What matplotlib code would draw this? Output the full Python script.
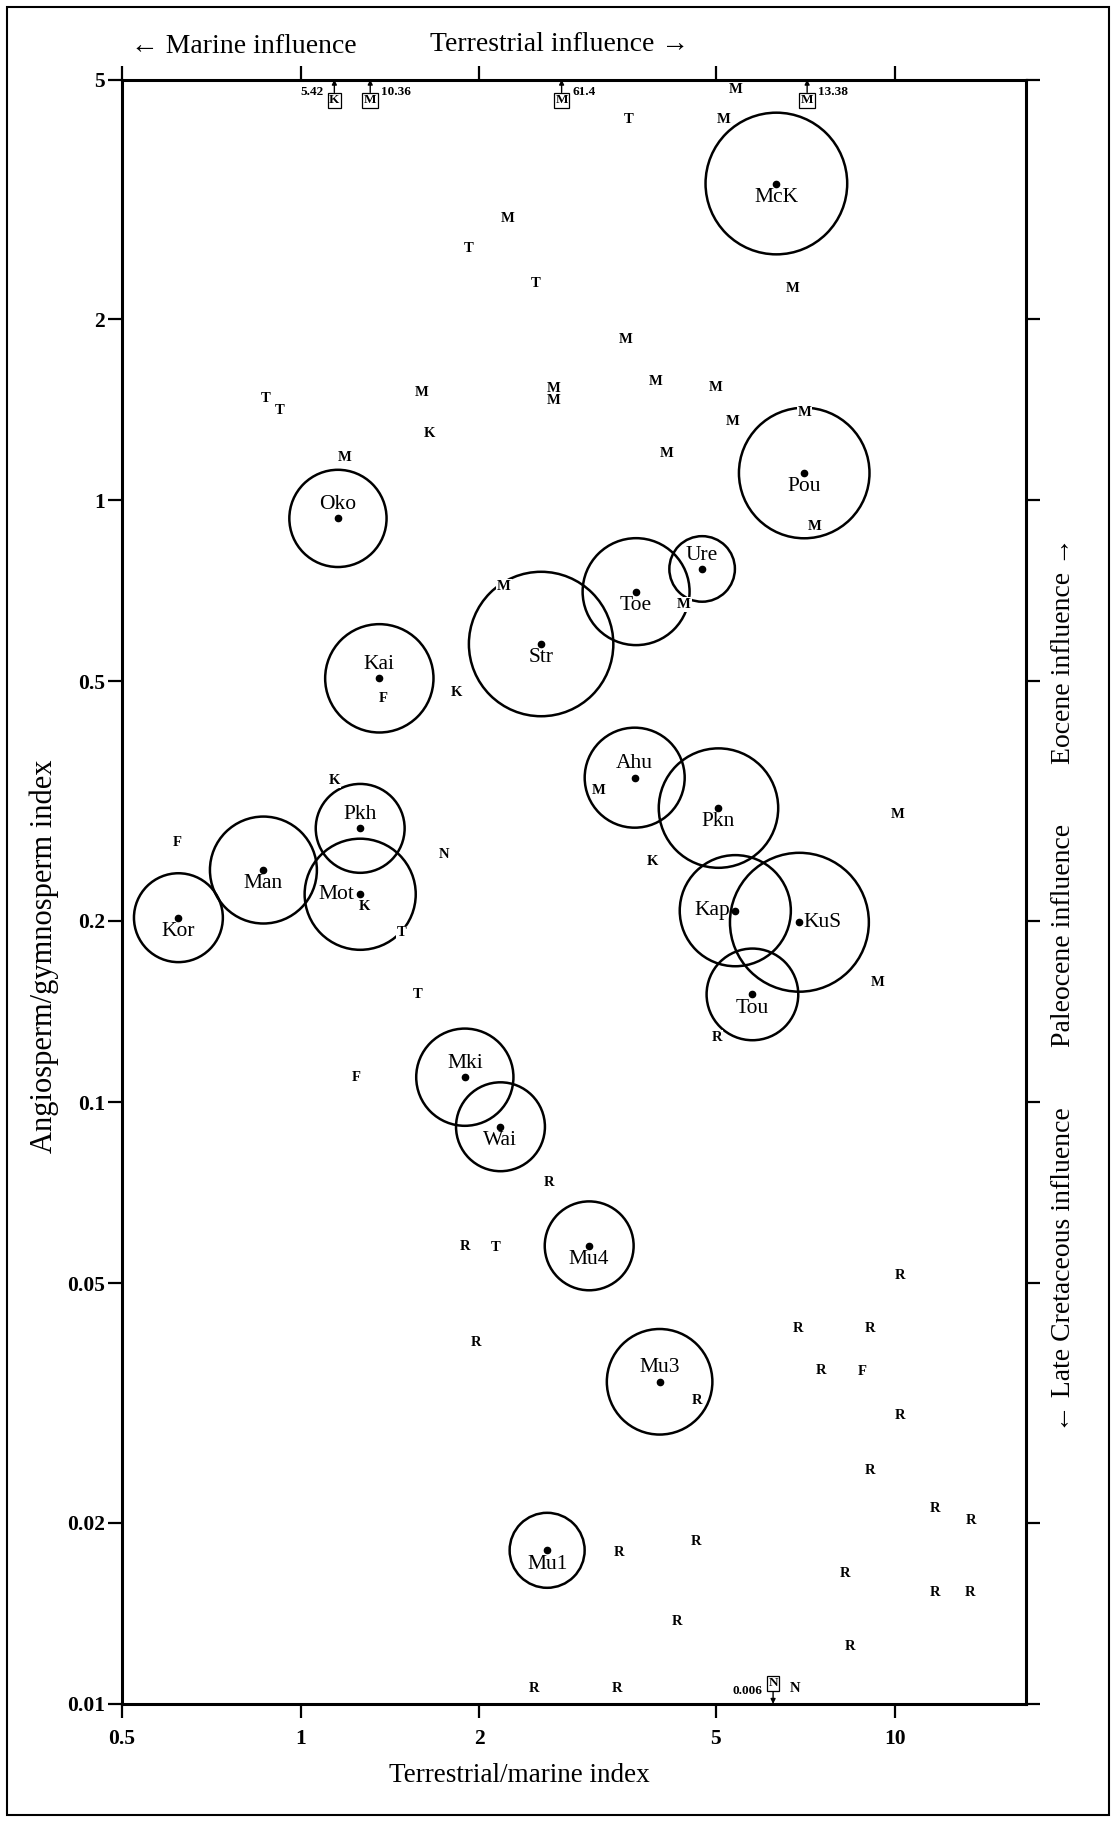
import matplotlib
matplotlib.use("Agg")
import matplotlib.pyplot as plt
from matplotlib.patches import Rectangle
from matplotlib.ticker import NullLocator

plt.rcParams['font.family'] = ['Liberation Serif', 'DejaVu Serif']

# localities (circled)
site_names = ['McK', 'Pou', 'Oko', 'Kai', 'Str', 'Pkh', 'Man', 'Mot', 'Kor', 'Toe', 'Ure',
              'Ahu', 'Pkn', 'Kap', 'KuS', 'Tou', 'Mki', 'Wai', 'Mu4', 'Mu3', 'Mu1']
site_tm = [6.32, 7.04, 1.156, 1.357, 2.54, 1.26, 0.866, 1.26, 0.623, 3.67, 4.74,
           3.65, 5.05, 5.39, 6.91, 5.76, 1.89, 2.17, 3.06, 4.02, 2.60]
site_ag = [3.36, 1.11, 0.933, 0.506, 0.577, 0.285, 0.243, 0.2215, 0.2025, 0.705, 0.769,
           0.346, 0.308, 0.208, 0.199, 0.151, 0.110, 0.091, 0.0577, 0.0343, 0.0180]
# circle radius in points
site_radius = [51, 47, 35, 39, 52, 32, 38.5, 40, 32, 38.5, 23.6,
               36, 43, 40, 50, 33, 35, 32, 32, 38, 27]

# single samples, letter = formation
mark_letters = ['M', 'T', 'T', 'T', 'T', 'M', 'K', 'M', 'M', 'M',
                'M', 'T', 'M', 'M', 'M', 'M', 'M', 'M', 'M', 'M',
                'M', 'M', 'M', 'K', 'M', 'M', 'F', 'K', 'K', 'F',
                'N', 'K', 'T', 'T', 'F', 'R', 'R', 'T', 'M', 'R',
                'R', 'R', 'R', 'R', 'R', 'R', 'R', 'R', 'F', 'R',
                'R', 'R', 'R', 'R', 'R', 'R', 'R', 'R', 'R', 'R', 'N']
mark_tm = [2.23, 1.92, 2.49, 0.872, 0.921, 1.60, 1.65, 2.67, 2.67, 1.185,
           5.39, 3.56, 5.15, 6.74, 3.53, 3.96, 4.99, 5.34, 4.13, 7.04,
           7.34, 4.42, 10.12, 3.91, 3.17, 2.20, 1.38, 1.83, 1.14, 0.619,
           1.74, 1.28, 1.48, 1.575, 1.24, 2.62, 1.89, 2.13, 9.37, 5.02,
           10.2, 1.97, 3.43, 2.47, 3.41, 6.87, 9.07, 7.51, 8.80, 4.65,
           10.2, 9.07, 11.67, 13.43, 4.63, 8.26, 11.67, 13.4, 4.30, 8.39, 6.80]
mark_ag = [2.94, 2.62, 2.29, 1.476, 1.41, 1.508, 1.29, 1.534, 1.467, 1.18,
           4.81, 4.30, 4.30, 2.25, 1.85, 1.573, 1.539, 1.35, 1.195, 1.40,
           0.905, 0.671, 0.301, 0.251, 0.329, 0.719, 0.469, 0.480, 0.342, 0.270,
           0.258, 0.211, 0.191, 0.151, 0.1097, 0.0736, 0.0576, 0.0574, 0.158, 0.128,
           0.0516, 0.0398, 0.01785, 0.0106, 0.0106, 0.0421, 0.0421, 0.0358, 0.0357, 0.0319,
           0.0302, 0.0244, 0.0211, 0.0202, 0.0186, 0.01646, 0.0153, 0.0153, 0.01372, 0.01248, 0.0106]

# samples beyond the axis range
off_letters = ['K', 'M', 'M', 'M', 'N']
off_tm = [1.14, 1.31, 2.75, 7.12, 6.24]
off_ag = [5.42, 10.36, 61.4, 13.38, 0.006]
off_text = ['5.42', '10.36', '61.4', '13.38', '0.006']
off_side = ['left', 'right', 'right', 'right', 'left']

x_ticks = [0.5, 1, 2, 5, 10]
y_ticks = [0.01, 0.02, 0.05, 0.1, 0.2, 0.5, 1, 2, 5]

label_place = {'Oko': 'above', 'Kai': 'above', 'Ure': 'above', 'Ahu': 'above',
               'Pkh': 'above', 'Mki': 'above', 'Mu3': 'above',
               'Kap': 'left', 'Mot': 'left', 'KuS': 'right'}

fig = plt.figure(figsize=(11.16, 18.22), dpi=100)
ax = fig.add_axes([0.109, 0.0648, 0.810, 0.8915])
ax.set_xscale('log')
ax.set_yscale('log')
ax.set_xlim(0.5, 16.6)
ax.set_ylim(0.01, 5)

sizes = [(2 * r) ** 2 for r in site_radius]
ax.scatter(site_tm, site_ag, s=sizes, facecolors='none', edgecolors='black',
           linewidths=1.8, zorder=2)
ax.plot(site_tm, site_ag, 'o', ms=4.5, color='black', zorder=3)

for name, x, y in zip(site_names, site_tm, site_ag):
    place = label_place.get(name, 'below')
    if place == 'above':
        off, ha = (0, 10), 'center'
    elif place == 'left':
        off, ha = (-4, 0), 'right'
    elif place == 'right':
        off, ha = (3, 0), 'left'
    else:
        off, ha = (0, -10), 'center'
    ax.annotate(name, (x, y), xytext=off, textcoords='offset points',
                ha=ha, va='center', fontsize=15.5, zorder=4)

for let, x, y in zip(mark_letters, mark_tm, mark_ag):
    ax.text(x, y, let, ha='center', va='center', fontsize=10.5, fontweight='bold',
            zorder=4, bbox=dict(boxstyle='square,pad=0.05', fc='white', ec='none'))

ymin, ymax = ax.get_ylim()
for let, x, v, txt, side in zip(off_letters, off_tm, off_ag, off_text, off_side):
    if v > ymax:
        yedge, d = ymax, -1
    else:
        yedge, d = ymin, 1
    ax.annotate(let, xy=(x, yedge), xytext=(0, d * 15), textcoords='offset points',
                ha='center', va='center', fontsize=9.5, fontweight='bold',
                bbox=dict(boxstyle='square,pad=0.12', fc='white', ec='black', lw=0.9),
                arrowprops=dict(arrowstyle='-|>', color='black', lw=1.0,
                                mutation_scale=7, shrinkA=0, shrinkB=0),
                annotation_clip=False, zorder=5)
    if side == 'left':
        ax.annotate(txt, xy=(x, yedge), xytext=(-8, d * 9), textcoords='offset points',
                    ha='right', va='center', fontsize=9.5, fontweight='bold',
                    annotation_clip=False)
    else:
        ax.annotate(txt, xy=(x, yedge), xytext=(8, d * 9), textcoords='offset points',
                    ha='left', va='center', fontsize=9.5, fontweight='bold',
                    annotation_clip=False)

ax.xaxis.set_minor_locator(NullLocator())
ax.yaxis.set_minor_locator(NullLocator())
ax.set_xticks(x_ticks)
ax.set_xticklabels([f'{t:g}' for t in x_ticks], fontweight='bold')
ax.set_yticks(y_ticks)
ax.set_yticklabels([f'{t:g}' for t in y_ticks], fontweight='bold')
ax.tick_params(which='major', direction='out', length=10, width=1.6, labelsize=15.5,
               top=True, right=True, labeltop=False, labelright=False)
ax.tick_params(axis='x', pad=8)
ax.tick_params(axis='y', pad=2)
for sp in ax.spines.values():
    sp.set_linewidth(2.2)

fig.text(0.4657, 0.0257, 'Terrestrial/marine index', ha='center', va='center', fontsize=19.5)
fig.text(0.0396, 0.475, 'Angiosperm/gymnosperm index', ha='center', va='center',
         rotation=90, fontsize=22)
fig.text(0.2187, 0.9745, '\u2190 Marine influence', ha='center', va='center', fontsize=20)
fig.text(0.501, 0.9757, 'Terrestrial influence \u2192', ha='center', va='center', fontsize=20)
fig.text(0.953, 0.6427, 'Eocene influence \u2192', ha='center', va='center',
         rotation=90, fontsize=20)
fig.text(0.953, 0.4864, 'Paleocene influence', ha='center', va='center',
         rotation=90, fontsize=20)
fig.text(0.953, 0.3032, '\u2190 Late Cretaceous influence', ha='center', va='center',
         rotation=90, fontsize=20)

fig.patches.append(Rectangle((0.006, 0.004), 0.988, 0.992, transform=fig.transFigure,
                             fill=False, lw=1.5, ec='black'))

fig.savefig('out.png', dpi=100)
